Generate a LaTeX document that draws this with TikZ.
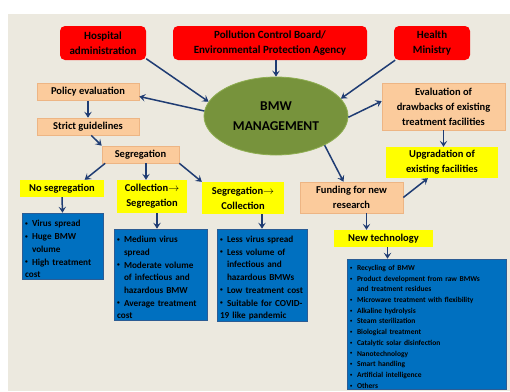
\documentclass[tikz,border=0pt]{standalone}
\usepackage{fontspec}
\setmainfont{Carlito}
\usetikzlibrary{shapes.geometric,arrows.meta}
\definecolor{bgc}{HTML}{ECE9DF}
\definecolor{redc}{HTML}{FF0000}
\definecolor{peachc}{HTML}{FBCB9C}
\definecolor{peachb}{HTML}{EDB584}
\definecolor{yelc}{HTML}{FFFF00}
\definecolor{bluec}{HTML}{0070C0}
\definecolor{blueb}{HTML}{2B5C94}
\definecolor{greenc}{HTML}{77933C}
\definecolor{greenb}{HTML}{8FAE52}
\definecolor{arrc}{HTML}{1F3C73}
\newcommand{\bul}{\par\noindent\hangindent=7pt\hangafter=1\makebox[7pt][l]{\raisebox{0.15em}{\scalebox{0.6}{\textbullet}}}}

\begin{document}
\begin{tikzpicture}[x=1pt,y=-1pt,
  redbox/.style={fill=redc, rounded corners=5pt, align=center, inner sep=0pt,
    font=\bfseries\fontsize{11}{15}\selectfont},
  peachbox/.style={fill=peachc, draw=peachb, line width=0.6pt, align=center, inner sep=0pt,
    font=\bfseries\fontsize{10.5}{15}\selectfont},
  yelbox/.style={fill=yelc, align=center, inner sep=0pt,
    font=\bfseries\fontsize{10.5}{15}\selectfont},
  bluebox/.style={fill=bluec, draw=blueb, line width=0.6pt, align=left, inner xsep=3pt, inner ysep=0pt,
    font=\bfseries\fontsize{9.2}{12.7}\selectfont},
  arr/.style={draw=arrc, line width=1.5pt, -{Stealth[length=6pt,width=7.5pt,inset=2.5pt]}}]
\useasboundingbox (0,0) rectangle (510,391);
\fill[bgc] (8,14) rectangle (510,391);

\node[redbox, minimum width=86, minimum height=34] (hosp) at (103,43) {Hospital\\administration};
\node[redbox, minimum width=194, minimum height=34] (pcb) at (270,43) {Pollution Control Board/\\Environmental Protection Agency};
\node[redbox, minimum width=76, minimum height=34] (hmin) at (432,43) {Health\\Ministry};

\node[ellipse, fill=greenc, draw=greenb, line width=0.8pt, minimum width=144, minimum height=78, inner sep=0pt,
  align=center, font=\bfseries\fontsize{13.5}{20}\selectfont] (bmw) at (276,116) {BMW\\MANAGEMENT};

\node[peachbox, minimum width=102, minimum height=17] (poleval) at (88,92) {Policy evaluation};
\node[peachbox, minimum width=102, minimum height=17] (strict) at (88,126.5) {Strict guidelines};
\node[peachbox, minimum width=77, minimum height=17] (segr) at (140.5,154.5) {Segregation};

\node[yelbox, minimum width=84, minimum height=17] (noseg) at (62,188.5) {No segregation};
\node[yelbox, minimum width=70, minimum height=33] (colseg) at (152,196.5) {Collection$\rightarrow$\\Segregation};
\node[yelbox, minimum width=82, minimum height=32] (segcol) at (243,198) {Segregation$\rightarrow$\\Collection};

\node[bluebox, text width=75, minimum height=66] (box1) at (62.5,246)
  {\bul Virus spread\bul Huge BMW\newline volume\bul High treatment\newline cost};
\node[bluebox, text width=87, minimum height=91] (box2) at (160.5,274.5)
  {\bul Medium virus\newline spread\bul Moderate volume\newline of infectious and\newline hazardous BMW\bul Average treatment\newline cost};
\node[bluebox, text width=84, minimum height=92] (box3) at (262,275)
  {\bul Less virus spread\bul Less volume of\newline infectious and\newline hazardous BMWs\bul Low treatment cost\bul Suitable for COVID-\newline 19 like pandemic};

\node[peachbox, minimum width=123, minimum height=47] (evald) at (443.5,106.5) {Evaluation of\\drawbacks of existing\\treatment facilities};
\node[yelbox, minimum width=112, minimum height=31] (upgr) at (442,162.5) {Upgradation of\\existing facilities};
\node[peachbox, minimum width=103, minimum height=31] (fund) at (351.5,197.5) {Funding for new\\research};
\node[yelbox, minimum width=99, minimum height=17] (newtech) at (383.5,238.5) {New technology};

\node[bluebox, text width=153, minimum height=130, font=\bfseries\fontsize{7.5}{10.7}\selectfont] (box4) at (426.5,324)
  {\bul Recycling of BMW\bul Product development from raw BMWs\newline and treatment residues\bul Microwave treatment with flexibility
   \bul Alkaline hydrolysis\bul Steam sterilization\bul Biological treatment\bul Catalytic solar disinfection
   \bul Nanotechnology\bul Smart handling\bul Artificial intelligence\bul Others};

\draw[arr] (hosp.-20) -- (bmw.168);
\draw[arr] (bmw.north |- pcb.south) -- (bmw.north);
\draw[arr] (hmin.205) -- (bmw.15);
\draw[arr] (bmw.176) -- (poleval.-5);
\draw[arr] (poleval.south) -- (strict.north);
\draw[arr] (strict.-70) -- (segr.north west);
\draw[arr] (segr.-166) -- (noseg.21);
\draw[arr] ([xshift=5.5]segr.south) -- ([xshift=-6]colseg.north);
\draw[arr] (segr.south east) -- (segcol.north west);
\draw[arr] (noseg.south) -- (box1.north);
\draw[arr] ([xshift=5]colseg.south) -- ([xshift=-3.5]box2.north);
\draw[arr] (box3.north |- segcol.south) -- (box3.north);
\draw[arr] (bmw.-1) -- (evald.175);
\draw[arr] (evald.south) -- (evald.south |- upgr.north);
\draw[arr] (bmw.-31) -- ([xshift=-8]fund.north);
\draw[arr] (fund.east) -- (upgr.-132);
\draw[arr] ([xshift=15]fund.south) -- ([xshift=15]fund.south |- newtech.north);
\draw[arr] ([xshift=4]newtech.south) -- ([xshift=4]newtech.south |- box4.north);
\end{tikzpicture}
\end{document}
